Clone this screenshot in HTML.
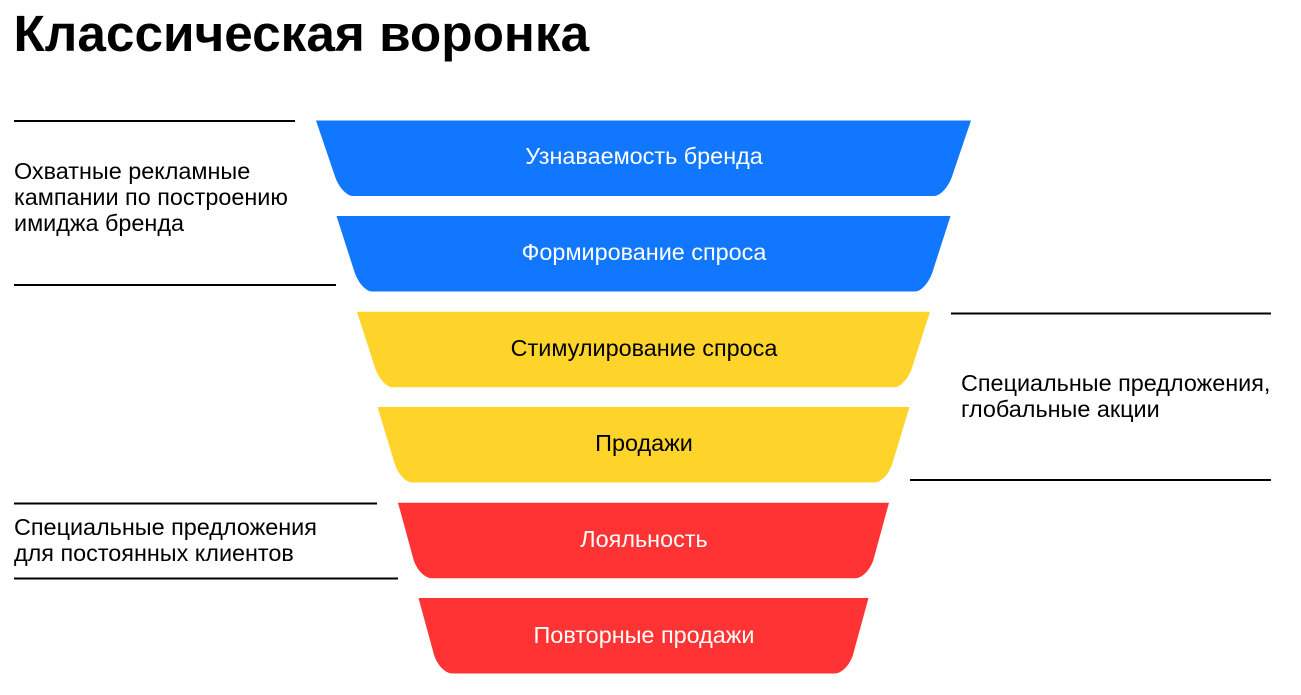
<!DOCTYPE html>
<html lang="ru">
<head>
<meta charset="utf-8">
<title>Классическая воронка</title>
<style>
html,body{margin:0;padding:0;background:#fff;width:1301px;height:695px;overflow:hidden}
svg{display:block}
text{font-family:"Liberation Sans",sans-serif}
.c{font-size:23.4px;text-anchor:middle}
.l{font-size:23.4px;fill:#000}
.t{font-size:51.3px;font-weight:700;fill:#000}
line{stroke:#000;stroke-width:2}
</style>
</head>
<body>
<svg width="1301" height="695" viewBox="0 0 1301 695" xmlns="http://www.w3.org/2000/svg">
<rect width="1301" height="695" fill="#fff"/>
<text class="t" x="13.5" y="51">Классическая воронка</text>

<path fill="#1177ff" d="M316 120.5H971L952 176.5C948.4 187.2 940.3 196 934 196H353C346.7 196 338.6 187.2 335 176.5Z"/>
<path fill="#1177ff" d="M336.5 216H950.5L932.5 272C929 282.7 921.2 291.5 915 291.5H372C365.8 291.5 358 282.7 354.5 272Z"/>
<path fill="#ffd42a" d="M357 311.7H930L912 367.7C908.5 378.4 900.7 387.2 894.5 387.2H392.5C386.3 387.2 378.5 378.4 375 367.7Z"/>
<path fill="#ffd42a" d="M377.5 407H909.5L892.5 463C889.3 473.7 881.2 482.5 874.5 482.5H412.5C405.8 482.5 397.7 473.7 394.5 463Z"/>
<path fill="#ff3333" d="M398 502.7H889L873.7 558.7C870.8 569.4 862.4 578.2 855 578.2H432C424.6 578.2 416.2 569.4 413.3 558.7Z"/>
<path fill="#ff3333" d="M418.5 598H868.5L853.2 654C850.3 664.7 841.9 673.5 834.5 673.5H452.5C445.1 673.5 436.7 664.7 433.8 654Z"/>

<text class="c" x="644" y="164" fill="#fff">Узнаваемость бренда</text>
<text class="c" x="644" y="260" fill="#fff">Формирование спроса</text>
<text class="c" x="644" y="356" fill="#000">Стимулирование спроса</text>
<text class="c" x="644" y="451" fill="#000">Продажи</text>
<text class="c" x="644" y="547" fill="#fff">Лояльность</text>
<text class="c" x="644" y="643" fill="#fff">Повторные продажи</text>

<line x1="14" y1="121" x2="295" y2="121"/>
<line x1="14" y1="285" x2="336" y2="285"/>
<line x1="951" y1="313.5" x2="1271" y2="313.5"/>
<line x1="910" y1="480" x2="1271" y2="480"/>
<line x1="14" y1="503.5" x2="377" y2="503.5"/>
<line x1="14" y1="578.5" x2="398" y2="578.5"/>

<text class="l" x="14" y="179">Охватные рекламные</text>
<text class="l" x="14" y="205">кампании по построению</text>
<text class="l" x="14" y="231">имиджа бренда</text>
<text class="l" x="961" y="391">Специальные предложения,</text>
<text class="l" x="961" y="417">глобальные акции</text>
<text class="l" x="14" y="535">Специальные предложения</text>
<text class="l" x="14" y="561">для постоянных клиентов</text>
</svg>
</body>
</html>
